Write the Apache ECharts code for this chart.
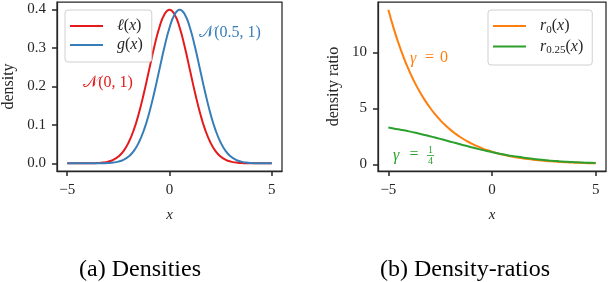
<!DOCTYPE html>
<html><head><meta charset="utf-8">
<script src="https://cdn.jsdelivr.net/npm/echarts@6/dist/echarts.min.js"></script>
<style>html,body{margin:0;padding:0;background:#fff}#c{width:608px;height:282px}</style>
</head><body><div id="c"></div><script>
// x grid (step 0.25 from -5 to 5)
const xs = [-5,-4.75,-4.5,-4.25,-4,-3.75,-3.5,-3.25,-3,-2.75,-2.5,-2.25,-2,-1.75,-1.5,-1.25,-1,-0.75,-0.5,-0.25,0,
  0.25,0.5,0.75,1,1.25,1.5,1.75,2,2.25,2.5,2.75,3,3.25,3.5,3.75,4,4.25,4.5,4.75,5];
// densities
const ell = [0,0.00001,0.00002,0.00005,0.00013,0.00035,0.00087,0.00203,0.00443,0.00909,0.01753,0.03174,0.05399,0.08628,0.12952,0.18265,0.24197,0.30114,0.35207,0.38667,0.39894,
  0.38667,0.35207,0.30114,0.24197,0.18265,0.12952,0.08628,0.05399,0.03174,0.01753,0.00909,0.00443,0.00203,0.00087,0.00035,0.00013,0.00005,0.00002,0.00001,0];
const gee = [0,0,0,0.00001,0.00002,0.00005,0.00013,0.00035,0.00087,0.00203,0.00443,0.00909,0.01753,0.03174,0.05399,0.08628,0.12952,0.18265,0.24197,0.30114,0.35207,
  0.38667,0.39894,0.38667,0.35207,0.30114,0.24197,0.18265,0.12952,0.08628,0.05399,0.03174,0.01753,0.00909,0.00443,0.00203,0.00087,0.00035,0.00013,0.00005,0.00002];
// density ratios
const r0 = [13.804,12.182,10.751,9.488,8.373,7.389,6.521,5.755,5.078,4.482,3.955,3.490,3.080,2.718,2.399,2.117,1.868,1.649,1.455,1.284,1.133,
  1.0,0.8825,0.7788,0.6873,0.6065,0.5353,0.4724,0.4169,0.3679,0.3247,0.2865,0.2528,0.2231,0.1969,0.1738,0.1534,0.1353,0.1194,0.1054,0.0930];
const r025 = [3.286,3.210,3.127,3.039,2.945,2.845,2.740,2.629,2.514,2.396,2.274,2.151,2.026,1.901,1.777,1.655,1.535,1.419,1.306,1.199,1.097,
  1.0,0.909,0.824,0.746,0.673,0.606,0.544,0.488,0.437,0.391,0.349,0.311,0.277,0.246,0.219,0.195,0.173,0.153,0.136,0.120];
const xTicks = [-5,0,5];
const yTicksL = [0,0.1,0.2,0.3,0.4];
const yTicksR = [0,5,10];

const SERIF = 'Liberation Serif';
const INK = '#262626';
const C_RED = '#e41a1c', C_BLUE = '#377eb8', C_ORANGE = '#ff7f0e', C_GREEN = '#2ca02c';
const pairs = (ys) => xs.map((x,i)=>[x, ys[i]]);
const minus = (v) => String(v).replace('-', '\u2212');

const mathRich = {
  w: {width: 9, fontSize: 16, lineHeight: 19},
  i: {fontFamily: SERIF, fontStyle: 'italic', fontSize: 16, color: INK, lineHeight: 19},
  p: {fontFamily: SERIF, fontSize: 16, color: INK, lineHeight: 19},
  s: {fontFamily: SERIF, fontSize: 11, color: INK, lineHeight: 19, verticalAlign: 'bottom'}
};
const labels = {
  'l': '{w|\u00a0}{i|\u2113}{p|(}{i|x}{p|)}',
  'g': '{w|\u00a0}{i|g}{p|(}{i|x}{p|)}',
  'r0': '{w|\u00a0}{i|r}{s|0}{p|(}{i|x}{p|)}',
  'r025': '{w|\u00a0}{i|r}{s|0.25}{p|(}{i|x}{p|)}'
};

function xAxis(gi){
  return {type:'value', gridIndex: gi, min: -5.5, max: 5.5,
    axisLine:{show:true, onZero:false, lineStyle:{color:INK, width:1.25}}, splitLine:{show:false},
    axisTick:{show:true, inside:false, length:5, lineStyle:{color:INK, width:1.5}, customValues: xTicks},
    axisLabel:{customValues: xTicks, formatter: minus, fontFamily: SERIF, fontSize: 15, color: INK, margin: 12},
    name: 'x', nameLocation:'middle', nameGap: 37,
    nameTextStyle:{fontFamily: SERIF, fontStyle:'italic', fontSize: 15, color: INK}};
}
function yAxis(gi, min, max, ticks, fmt, name, gap){
  return {type:'value', gridIndex: gi, min, max,
    axisLine:{show:true, onZero:false, lineStyle:{color:INK, width:1.25}}, splitLine:{show:false},
    axisTick:{show:true, inside:false, length:5, lineStyle:{color:INK, width:1.5}, customValues: ticks},
    axisLabel:{customValues: ticks, formatter: fmt, fontFamily: SERIF, fontSize: 15, color: INK, margin: 11},
    name, nameLocation:'middle', nameGap: gap, nameRotate: 90,
    nameTextStyle:{fontFamily: SERIF, fontSize: 16, color: INK}};
}
function line(name, gi, ys, color){
  return {type:'line', name, xAxisIndex: gi, yAxisIndex: gi, data: pairs(ys), smooth: true,
    showSymbol:false, symbol:'none', lineStyle:{color, width:2}, itemStyle:{color}, z: 3};
}
function legend(left, names){
  return {left, top: 10, orient:'vertical', data: names, icon:'rect', itemWidth: 33, itemHeight: 2,
    itemGap: 3, itemTextGap: 5, padding:[8,9,9,5], borderColor:'#d0d0d0', borderWidth: 1, borderRadius: 3,
    backgroundColor:'rgba(255,255,255,0.85)',
    formatter: (n)=>labels[n], textStyle:{rich: mathRich}};
}
function t(text, x, y, color, italic, size, align){
  return {type:'text', x, y, z: 10, style:{text, fill: color,
    font: (italic ? 'italic ' : '') + (size||16) + 'px "' + SERIF + '"', align: align||'left', verticalAlign:'middle'}};
}

const chart = echarts.init(document.getElementById('c'));
chart.setOption({
  animation: false,
  backgroundColor: '#fff',
  grid: [
    {left: 57, top: 2, width: 225, height: 169, show: true, borderColor: INK, borderWidth: 1.25, backgroundColor:'transparent'},
    {left: 378, top: 2, width: 228, height: 169, show: true, borderColor: INK, borderWidth: 1.25, backgroundColor:'transparent'}
  ],
  xAxis: [xAxis(0), xAxis(1)],
  yAxis: [
    yAxis(0, -0.01995, 0.4189, yTicksL, (v)=>v.toFixed(1), 'density', 40),
    yAxis(1, -0.59, 14.49, yTicksR, (v)=>String(v), 'density ratio', 36)
  ],
  legend: [legend(65, ['l','g']), legend(488, ['r0','r025'])],
  series: [
    line('l', 0, ell, C_RED),
    line('g', 0, gee, C_BLUE),
    line('r0', 1, r0, C_ORANGE),
    line('r025', 1, r025, C_GREEN)
  ],
  title: [
    {text: '(a) Densities', left: 135, top: 253, textAlign: 'center', textStyle:{fontFamily: SERIF, fontWeight:'normal', fontSize: 24, color:'#000'}},
    {text: '(b) Density-ratios', left: 460, top: 253, textAlign: 'center', textStyle:{fontFamily: SERIF, fontWeight:'normal', fontSize: 24, color:'#000'}}
  ],
  graphic: [
    t('\ud835\udca9(0, 1)', 108, 83, C_RED, false, 16, 'center'),
    t('\ud835\udca9(0.5, 1)', 230, 33, C_BLUE, false, 16, 'center'),
    t('\u03b3', 410, 59, C_ORANGE, true, 16),
    t('=', 429.5, 58, C_ORANGE, false, 16, 'center'),
    t('0', 444, 58, C_ORANGE, false, 16, 'center'),
    t('\u03b3', 393, 156, C_GREEN, true, 16),
    t('=', 414, 155, C_GREEN, false, 16, 'center'),
    t('1', 430.5, 150, C_GREEN, false, 10, 'center'),
    {type:'line', z:10, shape:{x1:427, y1:155.5, x2:434, y2:155.5}, style:{stroke: C_GREEN, lineWidth: 0.8}},
    t('4', 430.5, 161, C_GREEN, false, 10, 'center')
  ]
});
</script></body></html>
